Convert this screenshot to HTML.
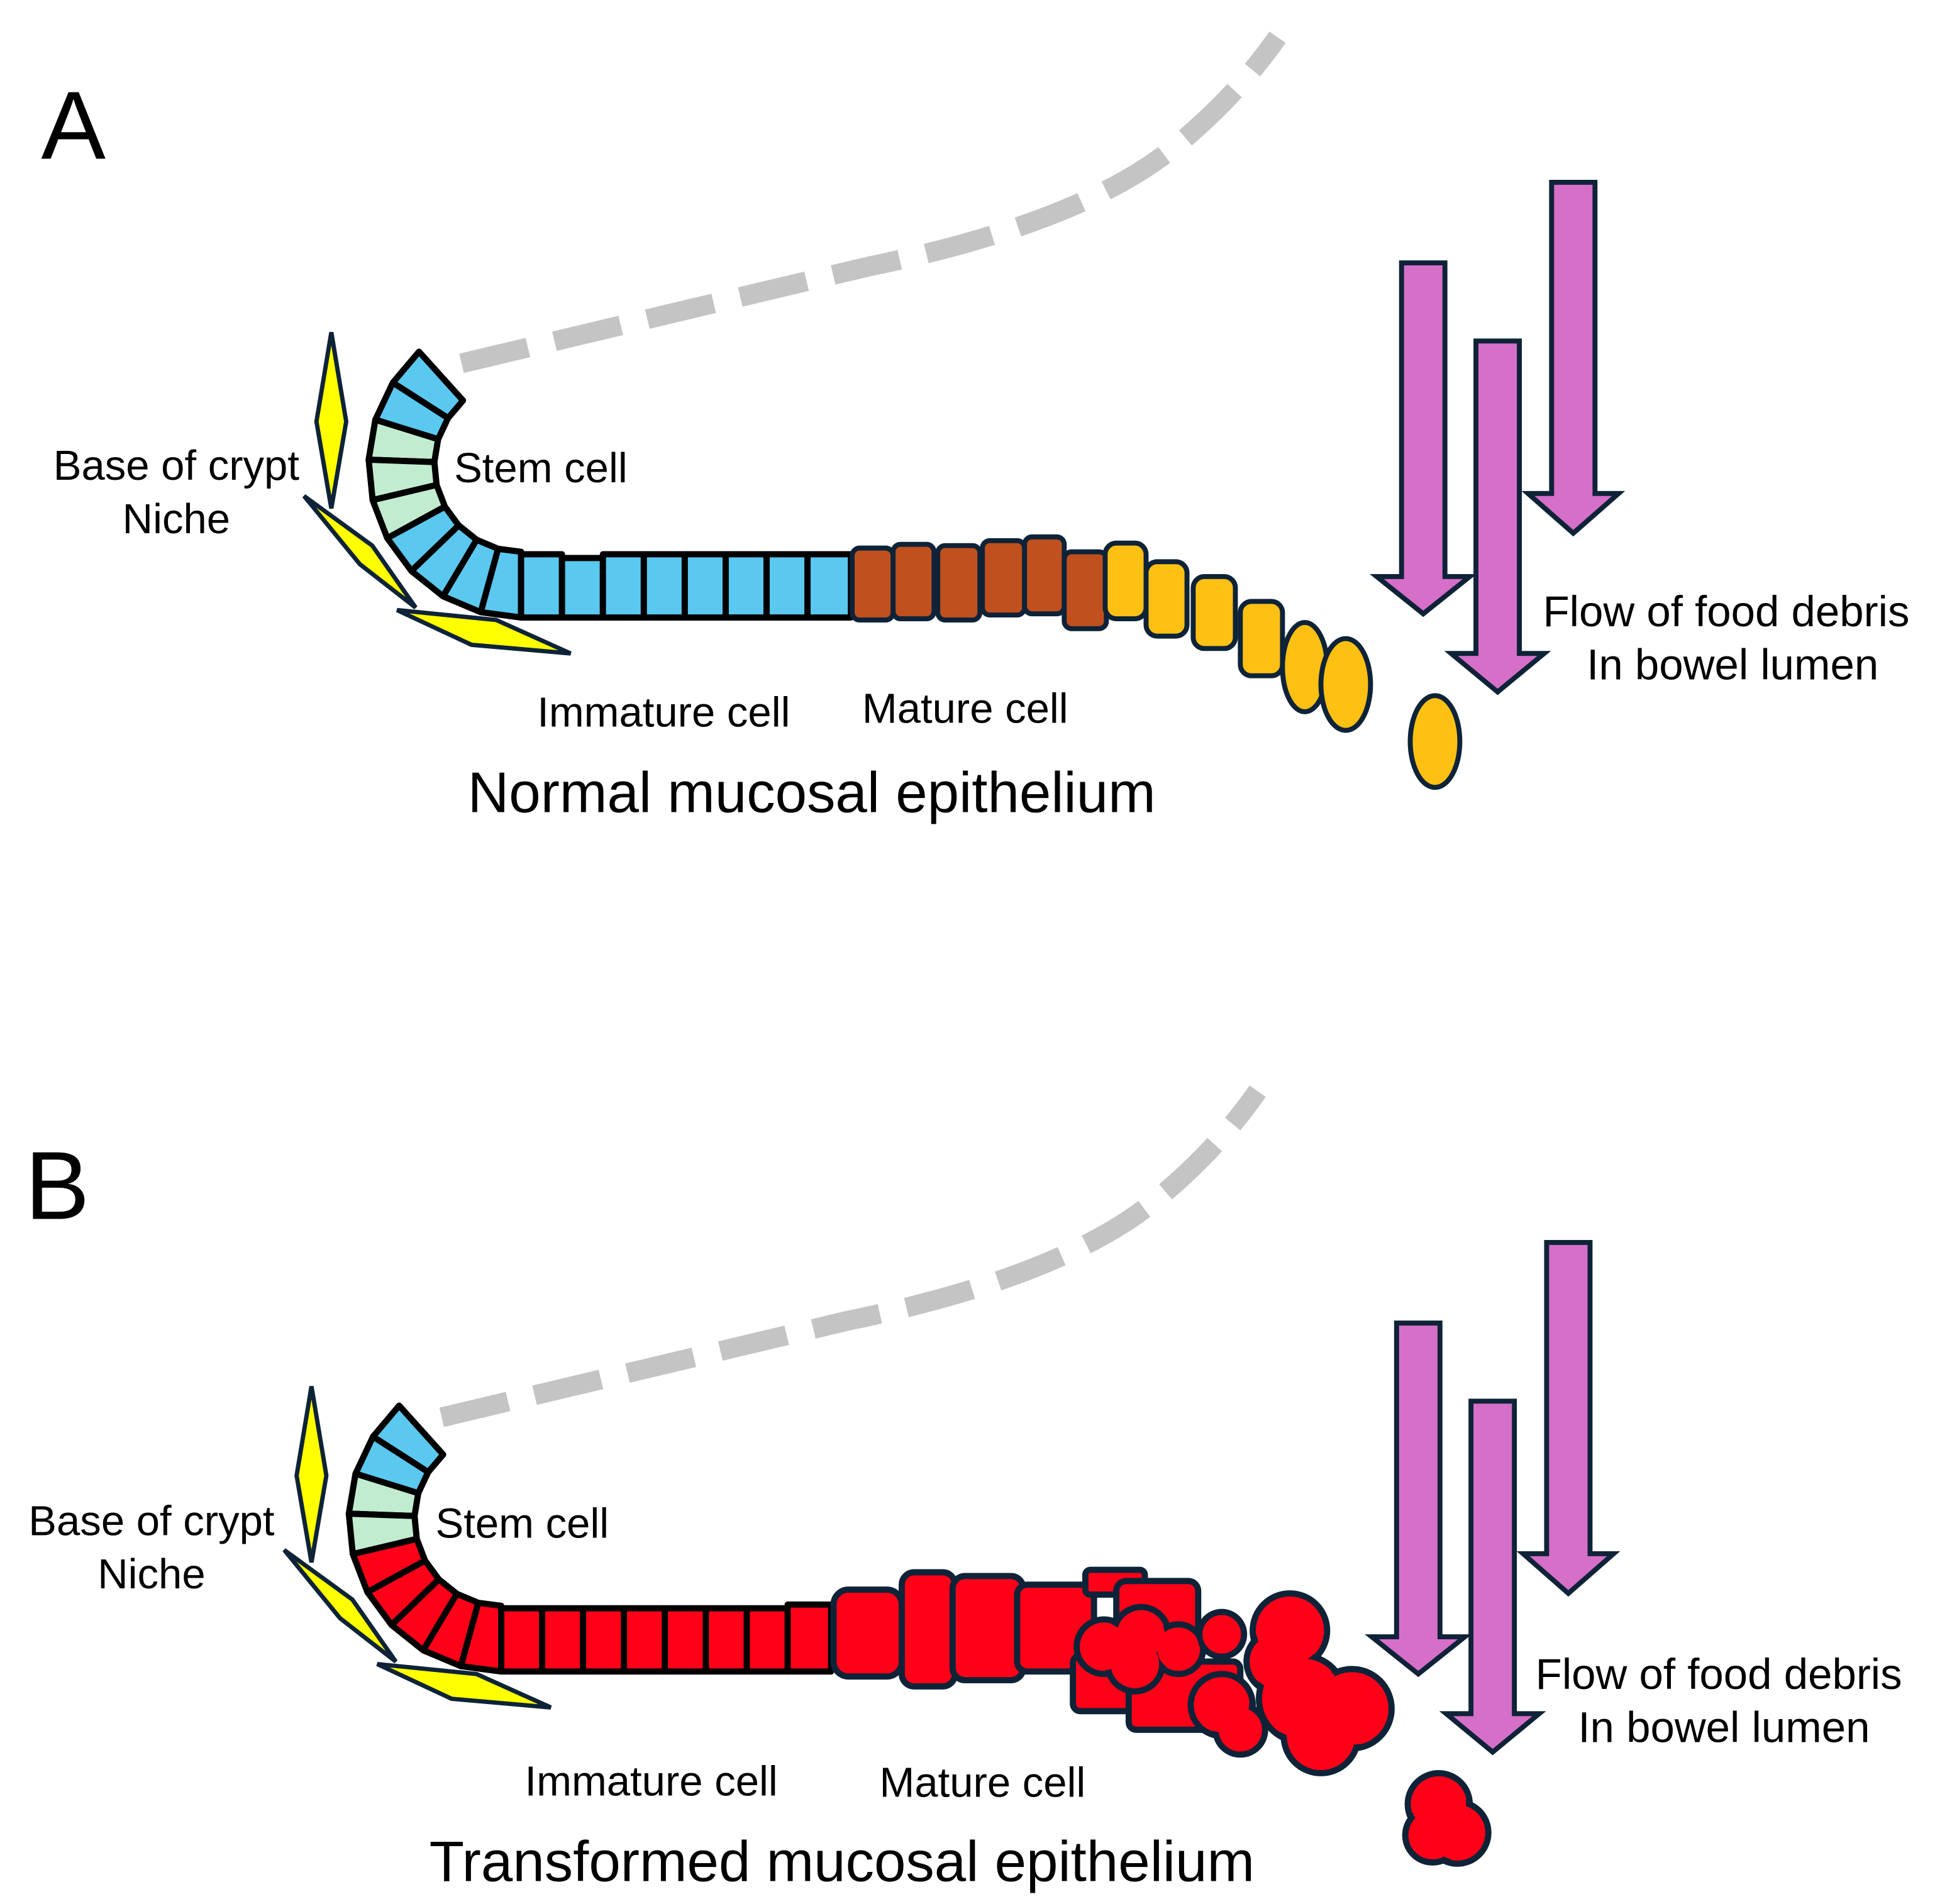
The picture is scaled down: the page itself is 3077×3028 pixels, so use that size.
<!DOCTYPE html>
<html><head><meta charset="utf-8">
<style>
html,body{margin:0;padding:0;background:#fff;}
svg{display:block;}
text{font-family:"Liberation Sans",Arial,sans-serif;fill:#000;}
</style></head>
<body>
<svg width="3077" height="3028" viewBox="0 0 1560 1535.5" xmlns="http://www.w3.org/2000/svg">
<defs>
<g id="crypt">
  <path d="M372,293 L700,215 Q870,180 945,120 Q995,80 1030,30" fill="none" stroke="#c4c4c4" stroke-width="16" stroke-dasharray="55,22"/>
  <polygon points="267,268 279,340 267,410 255,340" fill="#ffff00" stroke="#0e2338" stroke-width="3.5"/>
  <polygon points="245,400 300,440 335,490 290,455" fill="#ffff00" stroke="#0e2338" stroke-width="3.5"/>
  <polygon points="320,492 400,500 460,527 380,520" fill="#ffff00" stroke="#0e2338" stroke-width="3.5"/>
</g>
<g id="arrows">
  <polygon points="1135,212 1170,212 1170,465 1190,465 1152.5,495 1115,465 1135,465" fill="#d56fc8" stroke="#0e2338" stroke-width="4"/>
  <polygon points="1195,275 1230,275 1230,527 1250,527 1212.5,558 1175,527 1195,527" fill="#d56fc8" stroke="#0e2338" stroke-width="4"/>
  <polygon points="1256,147 1291,147 1291,398 1310,398 1273.5,430 1237,398 1256,398" fill="#d56fc8" stroke="#0e2338" stroke-width="4"/>
</g>
</defs>

<!-- ========== PANEL A ========== -->
<text x="33" y="128" font-size="78">A</text>
<use href="#crypt"/>
<g stroke="#000" stroke-width="5" stroke-linejoin="round">
  <polygon points="373.2,323 337.7,283.6 316.6,308.6 361.1,337.2" fill="#5bc8f0"/>
  <polygon points="361.1,337.2 316.6,308.6 302.5,338.5 353.1,354.2" fill="#5bc8f0"/>
  <polygon points="353.1,354.2 302.5,338.5 297.1,370.7 350.1,372.6" fill="#c2ecd0"/>
  <polygon points="350.1,372.6 297.1,370.7 300.3,403.3 351.9,391.1" fill="#c2ecd0"/>
  <polygon points="351.9,391.1 300.3,403.3 312.1,434 358.6,408.6" fill="#c2ecd0"/>
  <polygon points="358.6,408.6 312.1,434 331.6,460.5 369.7,423.7" fill="#5bc8f0"/>
  <polygon points="369.7,423.7 331.6,460.5 357.1,480.9 384.2,435.3" fill="#5bc8f0"/>
  <polygon points="384.2,435.3 357.1,480.9 387.5,493.7 401.5,442.6" fill="#5bc8f0"/>
  <polygon points="401.5,442.6 387.5,493.7 420,498 420,445" fill="#5bc8f0"/>
  <rect x="420" y="447" width="33" height="51" fill="#5bc8f0"/>
  <rect x="453" y="450" width="33" height="48" fill="#5bc8f0"/>
  <rect x="486" y="447" width="33" height="51" fill="#5bc8f0"/>
  <rect x="519" y="447" width="33" height="51" fill="#5bc8f0"/>
  <rect x="552" y="447" width="33" height="51" fill="#5bc8f0"/>
  <rect x="585" y="447" width="33" height="51" fill="#5bc8f0"/>
  <rect x="618" y="447" width="33" height="51" fill="#5bc8f0"/>
  <rect x="651" y="447" width="35" height="51" fill="#5bc8f0"/>
</g>
<g stroke="#0e2338" stroke-width="4">
  <rect x="687" y="442" width="33" height="58" rx="6" fill="#c0501e"/>
  <rect x="720" y="439" width="33" height="60" rx="6" fill="#c0501e"/>
  <rect x="756" y="440" width="34" height="60" rx="6" fill="#c0501e"/>
  <rect x="792" y="436" width="34" height="60" rx="6" fill="#c0501e"/>
  <rect x="826" y="433" width="32" height="62" rx="6" fill="#c0501e"/>
  <rect x="858" y="445" width="34" height="62" rx="6" fill="#c0501e"/>
  <rect x="891" y="438" width="33" height="61" rx="9" fill="#ffc014"/>
  <rect x="924" y="453" width="33" height="60" rx="9" fill="#ffc014"/>
  <rect x="962" y="465" width="34" height="58" rx="9" fill="#ffc014"/>
  <rect x="1000" y="485" width="34" height="60" rx="9" fill="#ffc014"/>
  <ellipse cx="1052" cy="538" rx="18" ry="36" fill="#ffc014"/>
  <ellipse cx="1085" cy="552" rx="20" ry="37" fill="#ffc014"/>
  <ellipse cx="1157" cy="598" rx="20" ry="37" fill="#ffc014"/>
</g>
<use href="#arrows" transform="translate(-5,0)"/>
<text x="142" y="387" font-size="34" text-anchor="middle">Base of crypt</text>
<text x="142" y="430" font-size="34" text-anchor="middle">Niche</text>
<text x="366" y="389" font-size="34">Stem cell</text>
<text x="433" y="586" font-size="34">Immature cell</text>
<text x="695" y="583" font-size="34">Mature cell</text>
<text x="377" y="655" font-size="46">Normal mucosal epithelium</text>
<text x="1244" y="505" font-size="35">Flow of food debris</text>
<text x="1397" y="548" font-size="35" text-anchor="middle">In bowel lumen</text>

<!-- ========== PANEL B ========== -->
<text x="20" y="983" font-size="78">B</text>
<use href="#crypt" transform="translate(-16,850)"/>
<g transform="translate(-16,850)" stroke="#000" stroke-width="5" stroke-linejoin="round">
  <polygon points="373.2,323 337.7,283.6 316.6,308.6 361.1,337.2" fill="#5bc8f0"/>
  <polygon points="361.1,337.2 316.6,308.6 302.5,338.5 353.1,354.2" fill="#5bc8f0"/>
  <polygon points="353.1,354.2 302.5,338.5 297.1,370.7 350.1,372.6" fill="#c2ecd0"/>
  <polygon points="350.1,372.6 297.1,370.7 300.3,403.3 351.9,391.1" fill="#c2ecd0"/>
  <polygon points="351.9,391.1 300.3,403.3 312.1,434 358.6,408.6" fill="#ff0018"/>
  <polygon points="358.6,408.6 312.1,434 331.6,460.5 369.7,423.7" fill="#ff0018"/>
  <polygon points="369.7,423.7 331.6,460.5 357.1,480.9 384.2,435.3" fill="#ff0018"/>
  <polygon points="384.2,435.3 357.1,480.9 387.5,493.7 401.5,442.6" fill="#ff0018"/>
  <polygon points="401.5,442.6 387.5,493.7 420,498 420,445" fill="#ff0018"/>
  <rect x="420" y="447" width="33" height="51" fill="#ff0018"/>
  <rect x="453" y="447" width="33" height="51" fill="#ff0018"/>
  <rect x="486" y="447" width="33" height="51" fill="#ff0018"/>
  <rect x="519" y="447" width="33" height="51" fill="#ff0018"/>
  <rect x="552" y="447" width="33" height="51" fill="#ff0018"/>
  <rect x="585" y="447" width="33" height="51" fill="#ff0018"/>
  <rect x="618" y="447" width="33" height="51" fill="#ff0018"/>
  <rect x="651" y="444" width="35" height="54" fill="#ff0018"/>
</g>
<g stroke="#0e2338" stroke-width="5" fill="#ff0018">
  <rect x="672" y="1282" width="55" height="70" rx="12"/>
  <rect x="727" y="1268" width="43" height="92" rx="10"/>
  <rect x="768" y="1271" width="57" height="84" rx="10"/>
  <rect x="820" y="1278" width="62" height="70" rx="8"/>
  <rect x="875" y="1266" width="48" height="20" rx="4"/>
  <rect x="900" y="1275" width="66" height="70" rx="8"/>
  <rect x="865" y="1335" width="70" height="45" rx="6"/>
  <rect x="910" y="1340" width="90" height="55" rx="6"/>
  <g>
    <circle cx="890" cy="1328" r="22"/><circle cx="920" cy="1318" r="22"/><circle cx="950" cy="1330" r="20"/><circle cx="915" cy="1342" r="22"/>
    <circle cx="985" cy="1318" r="18"/>
    <circle cx="1040" cy="1315" r="30"/><circle cx="1030" cy="1340" r="25"/>
    <circle cx="985" cy="1375" r="25"/><circle cx="1000" cy="1395" r="20"/>
    <circle cx="1050" cy="1370" r="35"/><circle cx="1090" cy="1378" r="32"/><circle cx="1065" cy="1400" r="30"/>
    <circle cx="1160" cy="1455" r="25"/><circle cx="1175" cy="1478" r="25"/><circle cx="1155" cy="1480" r="22"/>
  </g>
  <g stroke="none">
    <circle cx="890" cy="1328" r="19"/><circle cx="920" cy="1318" r="19"/><circle cx="950" cy="1330" r="17"/><circle cx="915" cy="1342" r="19"/>
    <circle cx="985" cy="1318" r="15"/>
    <circle cx="1040" cy="1315" r="27"/><circle cx="1030" cy="1340" r="22"/>
    <circle cx="985" cy="1375" r="22"/><circle cx="1000" cy="1395" r="17"/>
    <circle cx="1050" cy="1370" r="32"/><circle cx="1090" cy="1378" r="29"/><circle cx="1065" cy="1400" r="27"/>
    <circle cx="1160" cy="1455" r="22"/><circle cx="1175" cy="1478" r="22"/><circle cx="1155" cy="1480" r="19"/>
  </g>
</g>
<use href="#arrows" transform="translate(-9,855)"/>
<text x="122" y="1238" font-size="34" text-anchor="middle">Base of crypt</text>
<text x="122" y="1281" font-size="34" text-anchor="middle">Niche</text>
<text x="351" y="1240" font-size="34">Stem cell</text>
<text x="423" y="1448" font-size="34">Immature cell</text>
<text x="709" y="1449" font-size="34">Mature cell</text>
<text x="346" y="1517" font-size="46">Transformed mucosal epithelium</text>
<text x="1238" y="1362" font-size="35">Flow of food debris</text>
<text x="1390" y="1405" font-size="35" text-anchor="middle">In bowel lumen</text>
</svg>
</body></html>
